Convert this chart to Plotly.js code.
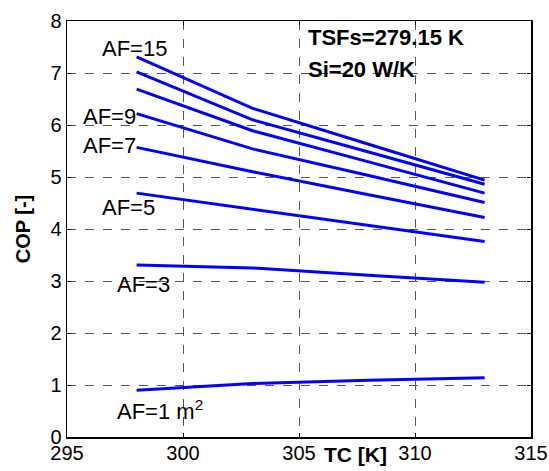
<!DOCTYPE html>
<html><head><meta charset="utf-8">
<script src="https://cdn.plot.ly/plotly-3.0.1.min.js"></script>
<style>html,body{margin:0;padding:0;background:#fff}#chart{width:549px;height:471px}</style>
</head><body><div id="chart"></div>
<script>
const tc = [298, 303, 308, 313];
const cop_af15 = [7.31, 6.32, 5.63, 4.94];
const cop_af13 = [7.02, 6.10, 5.48, 4.86];
const cop_af11 = [6.69, 5.89, 5.29, 4.69];
const cop_af9  = [6.22, 5.54, 5.03, 4.51];
const cop_af7  = [5.57, 5.10, 4.66, 4.22];
const cop_af5  = [4.69, 4.38, 4.07, 3.76];
const cop_af3  = [3.31, 3.25, 3.11, 2.975];
const cop_af1  = [0.90, 1.03, 1.09, 1.14];
const seriesList = [cop_af15, cop_af13, cop_af11, cop_af9, cop_af7, cop_af5, cop_af3, cop_af1];

const labelText = ['AF=15', 'AF=9', 'AF=7', 'AF=5', 'AF=3', 'AF=1 m<sup>2</sup>'];
const labelX = [297.93, 296.85, 296.85, 297.67, 298.28, 299.0];
const labelY = [7.47, 6.17, 5.6, 4.41, 2.94, 0.52];
const infoText = ['<b>TSFs=279.15 K</b>', '<b>Si=20 W/K</b>'];
const infoY = [7.69, 7.07];
const infoX = 305.3;

const font = 'Liberation Sans, Arial, sans-serif';
const traces = seriesList.map(v => ({
  x: tc, y: v, type: 'scatter', mode: 'lines',
  line: {color: '#0000ff', width: 3}, showlegend: false, hoverinfo: 'skip'
}));

const L = 67, R = 17.5, T = 21, B = 34, W = 549, H = 471;
const annotations = [];
labelText.forEach((t, i) => annotations.push({
  x: labelX[i], y: labelY[i], xref: 'x', yref: 'y', text: t, showarrow: false,
  font: {family: font, size: 22, color: '#000'}, xanchor: 'center', yanchor: 'middle'
}));
infoText.forEach((t, i) => annotations.push({
  x: infoX, y: infoY[i], xref: 'x', yref: 'y', text: t, showarrow: false,
  font: {family: font, size: 22, color: '#000'}, xanchor: 'left', yanchor: 'middle'
}));
annotations.push({
  x: (356 - L) / (W - L - R), y: (H - B - 454) / (H - T - B), xref: 'paper', yref: 'paper',
  text: '<b>TC [K]</b>', showarrow: false,
  font: {family: font, size: 21, color: '#000'}, xanchor: 'center', yanchor: 'middle'
});

const layout = {
  width: W, height: H,
  margin: {l: L, r: R, t: T, b: B, pad: 0},
  paper_bgcolor: '#fff', plot_bgcolor: '#fff',
  font: {family: font, size: 20, color: '#000'},
  xaxis: {
    range: [295, 315], tickvals: [295, 300, 305, 310, 315], ticktext: ['295', '300', '305', '310', '315'],
    showgrid: true, gridcolor: '#555', griddash: 'dash', gridwidth: 1,
    showline: true, linecolor: '#000', linewidth: 1.5, mirror: 'ticks',
    zeroline: false, ticks: 'inside', ticklen: 4, tickcolor: '#000', tickwidth: 1,
    tickfont: {size: 20}, ticklabelstandoff: -3
  },
  yaxis: {
    range: [0, 8], tickvals: [0, 1, 2, 3, 4, 5, 6, 7, 8],
    showgrid: true, gridcolor: '#555', griddash: 'dash', gridwidth: 1,
    showline: true, linecolor: '#000', linewidth: 1.5, mirror: 'ticks',
    zeroline: false, ticks: 'inside', ticklen: 4, tickcolor: '#000', tickwidth: 1,
    tickfont: {size: 20},
    title: {text: '<b>COP [-]</b>', font: {size: 20}, standoff: 14}
  },
  annotations: annotations
};
Plotly.newPlot('chart', traces, layout, {staticPlot: true, displayModeBar: false});
</script></body></html>
